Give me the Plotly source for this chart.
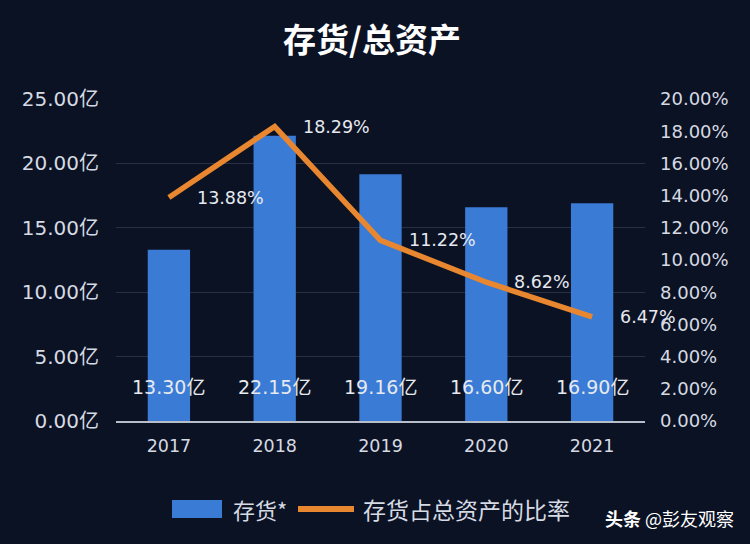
import plotly.graph_objects as go

years = ["2017", "2018", "2019", "2020", "2021"]
inventory = [13.30, 22.15, 19.16, 16.60, 16.90]          # 亿
ratio = [13.88, 18.29, 11.22, 8.62, 6.47]               # %
left_ticks = [0, 5, 10, 15, 20, 25]
left_ticktext = ["0.00亿", "5.00亿", "10.00亿", "15.00亿", "20.00亿", "25.00亿"]
right_ticks = [0, 2, 4, 6, 8, 10, 12, 14, 16, 18, 20]
right_ticktext = ["0.00%", "2.00%", "4.00%", "6.00%", "8.00%", "10.00%",
                  "12.00%", "14.00%", "16.00%", "18.00%", "20.00%"]

FONT = "DejaVu Sans, Noto Sans CJK SC, sans-serif"
CJK = "Noto Sans CJK SC, sans-serif"
BG = "#0b1224"
TXT = "#d6dae2"
BAR = "#3a7bd5"
LINE = "#e8872f"

L, R, T, B = 116, 105, 99, 123
PW, PH = 750 - L - R, 544 - T - B


def px(x):
    return (x - L) / PW


def py(y):
    return (544 - B - y) / PH


fig = go.Figure()
fig.add_trace(go.Bar(
    x=years, y=inventory, name="存货*",
    marker=dict(color=BAR, line=dict(width=0)),
    yaxis="y", showlegend=False,
))
fig.add_trace(go.Scatter(
    x=years, y=ratio, name="存货占总资产的比率",
    mode="lines", line=dict(color=LINE, width=5.5),
    yaxis="y2", showlegend=False,
))

annotations = []
for i, v in enumerate(inventory):
    annotations.append(dict(
        x=i, y=0, xref="x", yref="y", text=f"{v:.2f}亿",
        showarrow=False, yanchor="middle", yshift=34,
        font=dict(family=FONT, size=19, color="#e6e9ef"),
    ))
for i, v in enumerate(ratio):
    annotations.append(dict(
        x=i, y=v, xref="x", yref="y2", text=f"{v:.2f}%",
        showarrow=False, xanchor="left", yanchor="middle", xshift=26,
        font=dict(family=FONT, size=17.5, color="#e6e9ef"),
    ))

# custom legend
shapes = [
    dict(type="rect", xref="paper", yref="paper",
         x0=px(172), x1=px(222), y0=py(518), y1=py(500),
         fillcolor=BAR, line=dict(width=0)),
    dict(type="line", xref="paper", yref="paper",
         x0=px(298), x1=px(354), y0=py(509), y1=py(509),
         line=dict(color=LINE, width=6)),
]
annotations.append(dict(
    x=px(231), y=py(509), xref="paper", yref="paper", xanchor="left", yanchor="middle",
    showarrow=False, text="存货*", font=dict(family=CJK, size=22, color=TXT),
))
annotations.append(dict(
    x=px(361), y=py(509), xref="paper", yref="paper", xanchor="left", yanchor="middle",
    showarrow=False, text="存货占总资产的比率", font=dict(family=CJK, size=23, color=TXT),
))
annotations.append(dict(
    x=px(736), y=py(518), xref="paper", yref="paper", xanchor="right", yanchor="middle",
    showarrow=False, text="<b>头条</b> @彭友观察",
    font=dict(family=CJK, size=18, color="#ffffff"),
))

fig.update_layout(
    width=750, height=544,
    paper_bgcolor=BG, plot_bgcolor=BG,
    margin=dict(l=L, r=R, t=T, b=B),
    title=dict(text="<b>存货/总资产</b>", x=372 / 750, xanchor="center", y=1 - 40 / 544, yanchor="middle",
               font=dict(family=CJK, size=33, color="#ffffff")),
    bargap=0.6,
    showlegend=False,
    xaxis=dict(
        type="category", range=[-0.5, len(years) - 0.5],
        showgrid=False, showline=True, linecolor="#b8bec9", linewidth=1.5,
        tickfont=dict(family=FONT, size=17.5, color=TXT), ticks="",
        ticklabelstandoff=8,
    ),
    yaxis=dict(
        range=[0, 25], tickvals=left_ticks, ticktext=left_ticktext,
        showgrid=True, gridcolor="#283044", gridwidth=1, zeroline=False,
        tickfont=dict(family=FONT, size=20, color=TXT), ticks="",
        ticklabelstandoff=16,
    ),
    yaxis2=dict(
        range=[0, 20], tickvals=right_ticks, ticktext=right_ticktext,
        overlaying="y", side="right", showgrid=False, zeroline=False,
        tickfont=dict(family=FONT, size=18, color=TXT), ticks="",
        ticklabelstandoff=14,
    ),
    shapes=shapes,
    annotations=annotations,
)

fig.write_html("out.html", config={"displayModeBar": False},
               post_script="document.body.style.margin='0';")
